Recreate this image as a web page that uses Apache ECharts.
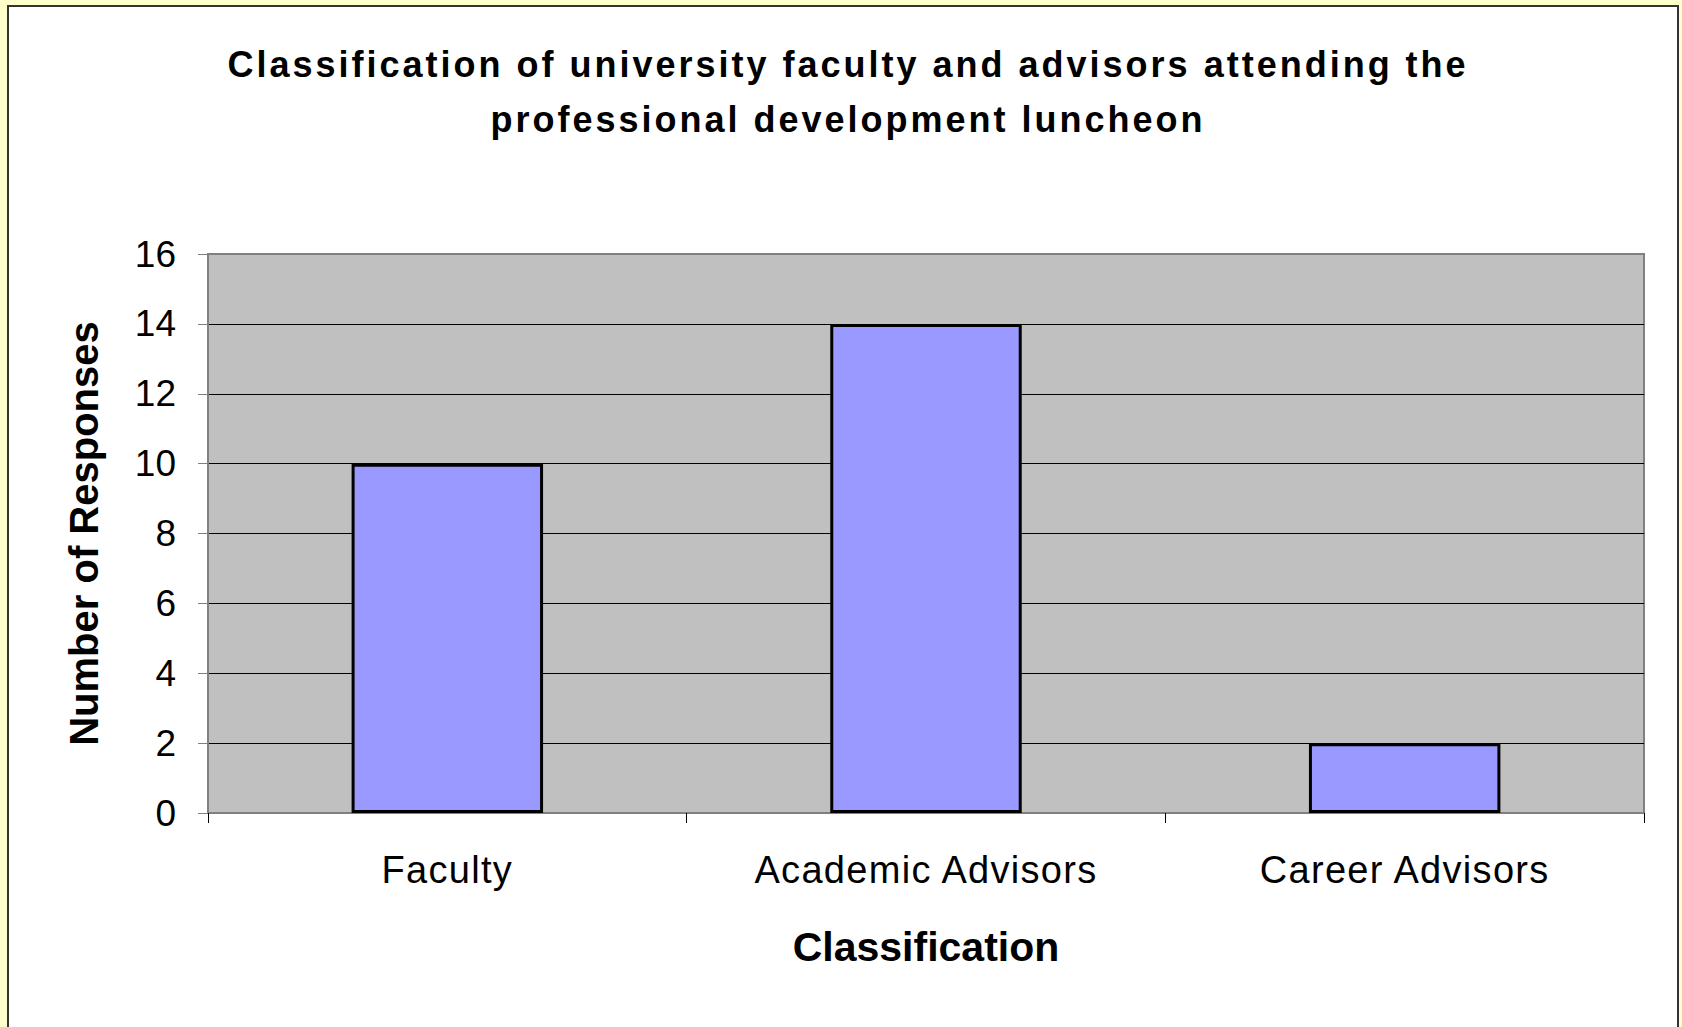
<!DOCTYPE html>
<html>
<head>
<meta charset="utf-8">
<script src="https://cdn.jsdelivr.net/npm/echarts@6/dist/echarts.min.js"></script>
<style>
  html, body { margin: 0; padding: 0; background: #FFFFCC; }
  #main { width: 1682px; height: 1027px; }
  /* the original chart spreads its letters a bit */
  #main text[style*="36px"] { letter-spacing: 3px; }
  #main text[style*="38px"] { letter-spacing: 1.3px; }
</style>
</head>
<body>
<div id="main"></div>
<script>
// data
var categories = ['Faculty', 'Academic Advisors', 'Career Advisors'];
var responses = [10, 14, 2];

var font = '"Liberation Sans", Arial, sans-serif';

var chart = echarts.init(document.getElementById('main'), null, { renderer: 'svg' });
var option = {
  backgroundColor: '#FFFFCC',
  animation: false,
  graphic: [{
    type: 'rect',
    z: -10,
    shape: { x: 8, y: 6, width: 1670, height: 1030 },
    style: { fill: '#fff', stroke: '#333', lineWidth: 2 }
  }],
  title: {
    text: 'Classification of university faculty and advisors attending the\nprofessional development luncheon',
    left: 843,
    textAlign: 'center',
    top: 32,
    textStyle: {
      fontFamily: font,
      fontSize: 36,
      fontWeight: 'bold',
      color: '#000',
      lineHeight: 55
    }
  },
  grid: {
    left: 208,
    top: 254,
    right: 38,
    bottom: 214,
    show: true,
    backgroundColor: '#C0C0C0',
    borderColor: '#808080',
    borderWidth: 2
  },
  xAxis: {
    type: 'category',
    data: categories,
    name: 'Classification',
    nameLocation: 'middle',
    nameGap: 113,
    nameTextStyle: { fontFamily: font, fontSize: 41, fontWeight: 'bold', color: '#000' },
    axisLine: { lineStyle: { color: '#808080', width: 2 } },
    axisTick: { show: true, length: 10, lineStyle: { color: '#000', width: 1 } },
    axisLabel: { fontFamily: font, fontSize: 38, color: '#000', margin: 38 }
  },
  yAxis: {
    type: 'value',
    min: 0,
    max: 16,
    interval: 2,
    name: 'Number of Responses',
    nameLocation: 'middle',
    nameGap: 104,
    nameTextStyle: { fontFamily: font, fontSize: 40, fontWeight: 'bold', color: '#000' },
    axisLine: { show: true, lineStyle: { color: '#808080', width: 2 } },
    axisTick: { show: true, length: 10, lineStyle: { color: '#808080', width: 1 } },
    axisLabel: { fontFamily: font, fontSize: 37, color: '#000', margin: 32 },
    splitLine: {
      show: true,
      showMinLine: false,
      showMaxLine: false,
      lineStyle: { color: '#000', width: 1 }
    }
  },
  series: [{
    name: 'Responses',
    type: 'bar',
    data: responses,
    barWidth: '40%',
    itemStyle: { color: '#9999FF', borderColor: '#000', borderWidth: 3 }
  }]
};
chart.setOption(option);
</script>
</body>
</html>
